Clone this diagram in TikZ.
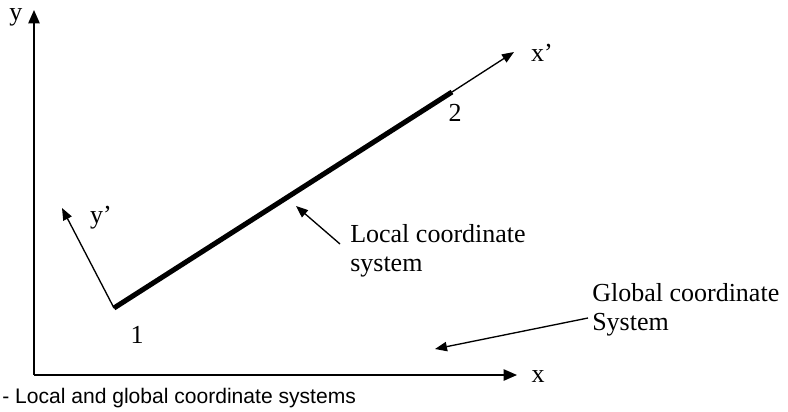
\documentclass[tikz,border=0pt]{standalone}
\usepackage{fontspec}
\setmainfont{Liberation Serif}
\setsansfont{Liberation Sans}
\usetikzlibrary{arrows.meta,positioning}

\begin{document}
\begin{tikzpicture}[
      x=0.75pt, y=-0.75pt,
      >={Triangle[length=10pt,width=8.5pt]},
      lbl/.style={font=\fontsize{19.5}{22}\selectfont, inner sep=0pt},
      axe/.style={->, line width=1.1pt},
      barra/.style={line width=3.8pt},
      seta/.style={->, line width=1pt, >={Triangle[length=9pt,width=7pt]}}
  ]
      \useasboundingbox (0,0) rectangle (788,411);

      % Sistema global
      \coordinate (O)  at (34,375);
      \coordinate (Yt) at (34,10);
      \coordinate (Xt) at (517,375);
      \draw[axe] (O) -- (Yt);
      \draw[axe] (O) -- (Xt);
      \node[lbl] (ylab) at (16,17)  {y};
      \node[lbl] (xlab) at (538,377) {x};

      % Elemento e sistema local
      \coordinate (n1) at (114,308);
      \coordinate (n2) at (452,92);
      \coordinate (xp) at (514,52);
      \coordinate (yp) at (62,208);
      \draw[barra] (n1) -- (n2);
      \draw[seta] (n2) -- (xp);
      \draw[seta] (n1) -- (yp);
      \node[lbl] (xplab) at (542,53)  {x'};
      \node[lbl] (yplab) at (101,218) {y'};
      \node[lbl] (lab1)  at (137,335) {1};
      \node[lbl] (lab2)  at (455,113) {2};

      % Rótulos
      \node[lbl, align=left, anchor=north west] (local)  at (350,224) {Local coordinate\\system};
      \node[lbl, align=left, anchor=north west] (global) at (592,283) {Global coordinate\\System};
      \coordinate (lt) at (340,244);
      \coordinate (lh) at (296,206);
      \coordinate (gt) at (588,318);
      \coordinate (gh) at (435,349);
      \draw[seta] (lt) -- (lh);
      \draw[seta] (gt) -- (gh);

      % Legenda
      \node[font=\sffamily\fontsize{15.8}{18}\selectfont, inner sep=0pt, anchor=west] (leg) at (2,398)
           {- Local and global coordinate systems};
  \end{tikzpicture}
\end{document}
